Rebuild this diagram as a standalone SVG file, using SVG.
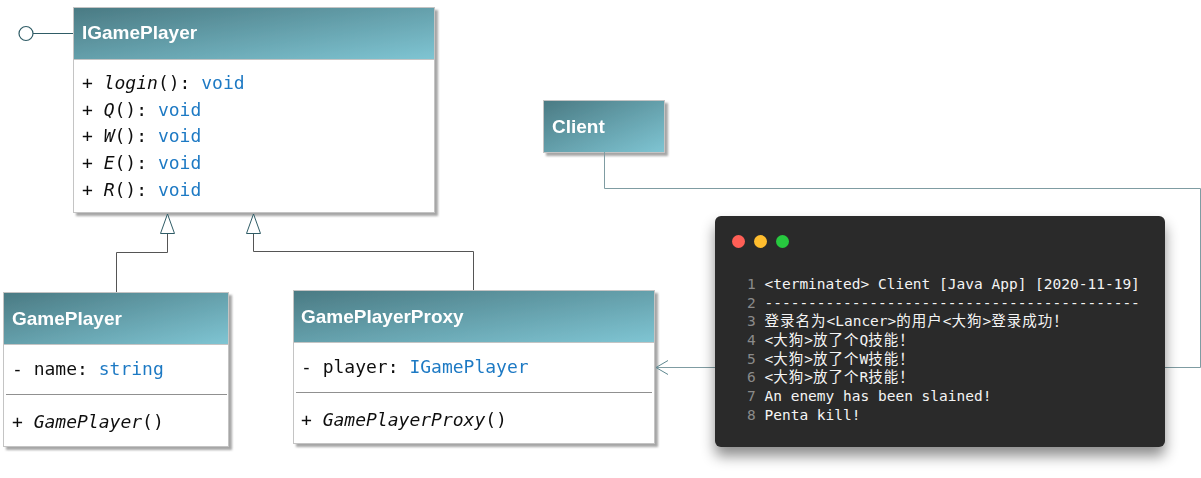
<svg xmlns="http://www.w3.org/2000/svg" width="1201" height="478" viewBox="0 0 1201 478">
<defs>
<linearGradient id="hdr" x1="0" y1="0" x2="1" y2="1">
<stop offset="0" stop-color="#4a7a83"/>
<stop offset="1" stop-color="#7fc5d3"/>
</linearGradient>
<filter id="sh" x="-5%" y="-5%" width="115%" height="115%">
<feDropShadow dx="3" dy="3" stdDeviation="1.2" flood-color="#808080" flood-opacity="0.7"/>
</filter>
<filter id="tsh" x="-10%" y="-10%" width="120%" height="130%">
<feDropShadow dx="0" dy="9" stdDeviation="7" flood-color="#000" flood-opacity="0.45"/>
</filter>
</defs>
<style>
.box{fill:#fff;stroke:#c4c4c4;stroke-width:1}
.hd{fill:url(#hdr);stroke:#c4c4c4;stroke-width:1}
.ht{font-family:"Liberation Sans",Arial,sans-serif;font-weight:bold;font-size:19px;fill:#fff}
.m{font-family:"DejaVu Sans Mono","Liberation Mono",monospace;font-size:18px;fill:#111}
.i{font-style:italic}
.ty{fill:#1f7ac4}
.sep{stroke:#909090;stroke-width:1}
.conn{fill:none;stroke:#555;stroke-width:1}
.tri{fill:#fff;stroke:#2f5c66;stroke-width:1}
.tl{font-family:"DejaVu Sans Mono","Noto Sans CJK SC",monospace;font-size:14.5px;fill:#f4f4f4}
.c{letter-spacing:1px}
.ln{fill:#8a8a8a}
</style>

<g id="IGamePlayer" filter="url(#sh)">
<rect class="box" x="73.5" y="7.5" width="361" height="205"/>
<rect class="hd" x="73.5" y="7.5" width="361" height="52"/>
<text class="ht" x="82" y="39">IGamePlayer</text>
<text class="m" x="82" y="89">+ <tspan class="i">login</tspan>(): <tspan class="ty">void</tspan></text>
<text class="m" x="82" y="116">+ <tspan class="i">Q</tspan>(): <tspan class="ty">void</tspan></text>
<text class="m" x="82" y="142">+ <tspan class="i">W</tspan>(): <tspan class="ty">void</tspan></text>
<text class="m" x="82" y="169">+ <tspan class="i">E</tspan>(): <tspan class="ty">void</tspan></text>
<text class="m" x="82" y="196">+ <tspan class="i">R</tspan>(): <tspan class="ty">void</tspan></text>
</g>

<g id="GamePlayer" filter="url(#sh)">
<rect class="box" x="3.5" y="292.5" width="225" height="154"/>
<rect class="hd" x="3.5" y="292.5" width="225" height="52"/>
<text class="ht" x="12" y="325">GamePlayer</text>
<text class="m" x="12" y="375">- name: <tspan class="ty">string</tspan></text>
<line class="sep" x1="6" y1="394.5" x2="227" y2="394.5"/>
<text class="m" x="12" y="428">+ <tspan class="i">GamePlayer</tspan>()</text>
</g>

<g id="GamePlayerProxy" filter="url(#sh)">
<rect class="box" x="293.5" y="290.5" width="361" height="153"/>
<rect class="hd" x="293.5" y="290.5" width="361" height="52"/>
<text class="ht" x="301" y="323">GamePlayerProxy</text>
<text class="m" x="301" y="373">- player: <tspan class="ty">IGamePlayer</tspan></text>
<line class="sep" x1="296" y1="392.5" x2="652" y2="392.5"/>
<text class="m" x="301" y="426">+ <tspan class="i">GamePlayerProxy</tspan>()</text>
</g>

<g id="Client" filter="url(#sh)">
<rect class="hd" x="543.5" y="100.5" width="121" height="52"/>
<text class="ht" x="552" y="133">Client</text>
</g>

<g id="connectors">
<path class="conn" d="M116.5 292 V252.5 H167.5 V233"/>
<polygon class="tri" points="167.5,214 174.5,233.5 160.5,233.5"/>
<path class="conn" d="M473.5 290 V251.5 H253.5 V233"/>
<polygon class="tri" points="253.5,214 260.5,233.5 246.5,233.5"/>
<path d="M604.5 152 V188.5 H1200.5 V367.5 H656" fill="none" stroke="#7f9ca2" stroke-width="1"/>
<path d="M668 360.5 L656 367.5 L668 374.5" fill="none" stroke="#5f8890" stroke-width="1"/>
<line x1="33" y1="33.5" x2="73" y2="33.5" stroke="#2f5c66" stroke-width="1.2"/>
<circle cx="26" cy="33.5" r="7" fill="#fff" stroke="#2f5c66" stroke-width="1.2"/>
</g>

<g id="console">
<rect x="715" y="216" width="450" height="231" rx="6" fill="#2a2a2a" filter="url(#tsh)"/>
<circle cx="738.5" cy="241.5" r="6.5" fill="#ff5f56"/>
<circle cx="760.5" cy="241.5" r="6.5" fill="#ffbd2e"/>
<circle cx="782.5" cy="241.5" r="6.5" fill="#27c93f"/>
<text class="tl" x="747" y="289"><tspan class="ln">1</tspan> &lt;terminated&gt; Client [Java App] [2020-11-19]</text>
<text class="tl" x="747" y="307.5"><tspan class="ln">2</tspan> -------------------------------------------</text>
<text class="tl" x="747" y="326"><tspan class="ln">3</tspan> <tspan class="c">登录名为</tspan>&lt;Lancer&gt;<tspan class="c">的用户</tspan>&lt;<tspan class="c">大狗</tspan>&gt;<tspan class="c">登录成功！</tspan></text>
<text class="tl" x="747" y="345"><tspan class="ln">4</tspan> &lt;<tspan class="c">大狗</tspan>&gt;<tspan class="c">放了个</tspan>Q<tspan class="c">技能！</tspan></text>
<text class="tl" x="747" y="363.5"><tspan class="ln">5</tspan> &lt;<tspan class="c">大狗</tspan>&gt;<tspan class="c">放了个</tspan>W<tspan class="c">技能！</tspan></text>
<text class="tl" x="747" y="382"><tspan class="ln">6</tspan> &lt;<tspan class="c">大狗</tspan>&gt;<tspan class="c">放了个</tspan>R<tspan class="c">技能！</tspan></text>
<text class="tl" x="747" y="401"><tspan class="ln">7</tspan> An enemy has been slained!</text>
<text class="tl" x="747" y="419.5"><tspan class="ln">8</tspan> Penta kill!</text>
</g>
</svg>
